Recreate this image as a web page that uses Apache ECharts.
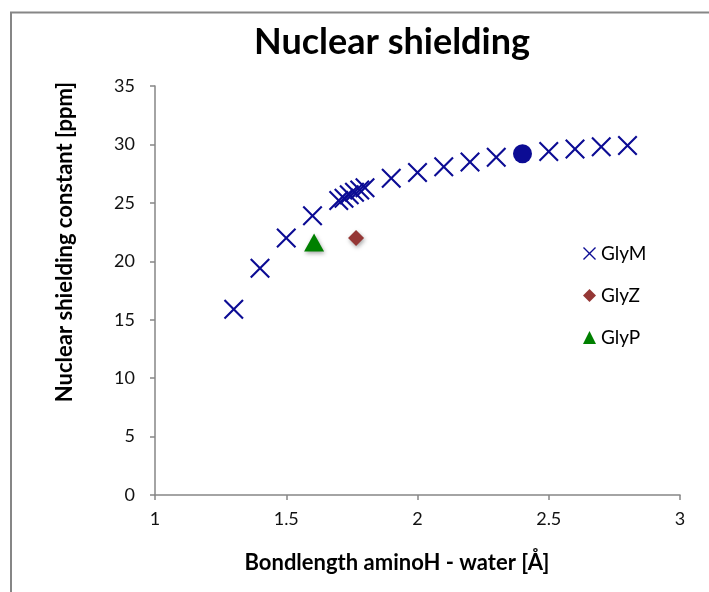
<!DOCTYPE html>
<html>
<head>
<meta charset="utf-8">
<script src="https://cdn.jsdelivr.net/npm/echarts@6/dist/echarts.min.js"></script>
<style>html,body{margin:0;padding:0;background:#fff;}#c{width:709px;height:592px;}</style>
</head>
<body>
<div id="c"></div>
<script>
var titleText = 'Nuclear shielding';
var xAxisName = 'Bondlength aminoH - water [Å]';
var yAxisName = 'Nuclear shielding constant [ppm]';
var seriesNames = ['GlyM', 'GlyZ', 'GlyP'];

var glyMx = [1.3, 1.4, 1.5, 1.6, 1.70, 1.72, 1.74, 1.76, 1.78, 1.80, 1.9, 2.0, 2.1, 2.2, 2.3, 2.4, 2.5, 2.6, 2.7, 2.8];
var glyMy = [15.9, 19.4, 22.0, 23.9, 25.2, 25.4, 25.7, 25.9, 26.1, 26.3, 27.1, 27.6, 28.1, 28.5, 28.9, 29.2, 29.4, 29.6, 29.8, 29.9];
var glyZx = [1.766];
var glyZy = [22.0];
var glyPx = [1.606];
var glyPy = [21.6];
var highlightX = 2.4; // GlyM point drawn as filled circle

var FONT = 'Lato';
var X_PATH = 'path://M0,1.5L1.5,0L10,8.5L18.5,0L20,1.5L11.5,10L20,18.5L18.5,20L10,11.5L1.5,20L0,18.5L8.5,10Z';

function pairs(xs, ys) { return xs.map(function (x, i) { return [x, ys[i]]; }); }

var glyMData = pairs(glyMx, glyMy).map(function (p) {
  if (p[0] === highlightX) {
    return { value: p, symbol: 'circle', symbolSize: 19 };
  }
  return { value: p };
});

var chart = echarts.init(document.getElementById('c'));
chart.setOption({
  animation: false,
  backgroundColor: '#ffffff',
  graphic: [{
    type: 'polyline',
    shape: { points: [[11, 600], [11, 12.5], [720, 12.5]] },
    style: { stroke: '#868686', lineWidth: 2, fill: null }
  }, {
    type: 'text', x: 65, y: 242, rotation: Math.PI / 2,
    style: { text: yAxisName, fontFamily: FONT, fontWeight: 'bold', fontSize: 22, fill: '#000', align: 'center', verticalAlign: 'middle' }
  }, {
    type: 'text', x: 397, y: 563,
    style: { text: xAxisName, fontFamily: FONT, fontWeight: 'bold', fontSize: 22, fill: '#000', align: 'center', verticalAlign: 'middle' }
  }],
  title: {
    text: titleText,
    left: 387, top: 19, textAlign: 'center',
    textStyle: { fontFamily: FONT, fontWeight: 'bold', fontSize: 36, color: '#000' }
  },
  legend: {
    orient: 'vertical',
    left: 578, top: 239,
    itemGap: 23, itemWidth: 13, itemHeight: 13,
    textStyle: { fontFamily: FONT, fontSize: 19, color: '#000' },
    data: seriesNames
  },
  grid: { left: 155, right: 29, top: 86, bottom: 97 },
  xAxis: {
    type: 'value', min: 1, max: 3, interval: 0.5,
    axisLine: { show: true, onZero: false, lineStyle: { color: '#868686', width: 1.5 } },
    axisTick: { show: true, inside: false, length: 5, lineStyle: { color: '#868686', width: 1.5 } },
    axisLabel: { fontFamily: FONT, fontSize: 18, color: '#111', margin: 15 },
    splitLine: { show: false }
  },
  yAxis: {
    type: 'value', min: 0, max: 35, interval: 5,
    axisLine: { show: true, lineStyle: { color: '#868686', width: 1.5 } },
    axisTick: { show: true, inside: false, length: 5, lineStyle: { color: '#868686', width: 1.5 } },
    axisLabel: { fontFamily: FONT, fontSize: 18, color: '#111', margin: 20 },
    splitLine: { show: false }
  },
  series: [
    {
      name: seriesNames[0], type: 'scatter',
      symbol: X_PATH, symbolSize: 20,
      itemStyle: { color: '#0c0c94', opacity: 1 },
      data: glyMData
    },
    {
      name: seriesNames[1], type: 'scatter',
      symbol: 'diamond', symbolSize: 16,
      itemStyle: { color: '#953735', opacity: 1, shadowColor: 'rgba(0,0,0,0.35)', shadowBlur: 4, shadowOffsetX: 1, shadowOffsetY: 2 },
      data: pairs(glyZx, glyZy)
    },
    {
      name: seriesNames[2], type: 'scatter',
      symbol: 'triangle', symbolSize: [20, 18],
      itemStyle: { color: '#008000', opacity: 1, shadowColor: 'rgba(0,0,0,0.35)', shadowBlur: 4, shadowOffsetX: 1, shadowOffsetY: 2 },
      data: pairs(glyPx, glyPy)
    }
  ]
});
</script>
</body>
</html>
